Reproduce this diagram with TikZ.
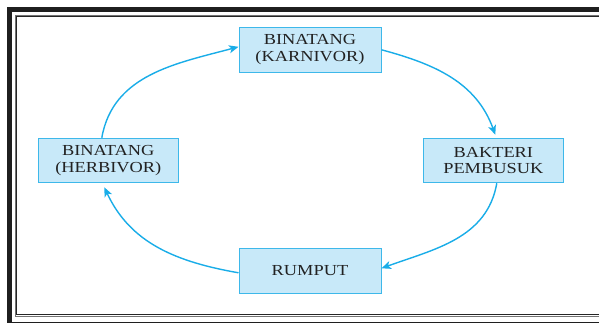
\documentclass[tikz,border=0pt]{standalone}
\usepackage{fontspec}
\setmainfont{Liberation Serif}[FakeStretch=1.2]
\usetikzlibrary{arrows.meta}
\definecolor{boxfill}{HTML}{C8E9F9}
\definecolor{boxline}{HTML}{3DB8EA}
\definecolor{arrowc}{HTML}{19ADE8}
\definecolor{txt}{HTML}{222222}
\begin{document}
\begin{tikzpicture}[x=1pt,y=1pt,
  box/.style={draw=boxline, fill=boxfill, line width=1pt, minimum width=142pt, minimum height=45pt,
    inner sep=0pt, align=center, text=txt, font=\fontsize{15.3}{16.7}\selectfont},
  sidebox/.style={box, minimum width=140pt, minimum height=44.5pt},
  flow/.style={draw=arrowc, line width=1.4pt, -{Stealth[length=9.5pt,width=8pt,inset=2.5pt]}},
  thickframe/.style={fill=black!88},
  frameouter/.style={draw=black!55, line width=0.9pt},
  frameinner/.style={draw=black!85, line width=0.9pt}]
\useasboundingbox (0,0) rectangle (599,-323);
\fill[white] (0,0) rectangle (599,-323);
% frame
\fill[thickframe] (7,-7) rectangle (12,-330);
\fill[thickframe] (7,-7) rectangle (610,-12);
\fill[thickframe] (7,-321.5) rectangle (610,-330);
\draw[frameouter] (15,-316.7) rectangle (620,-15);
\draw[frameinner] (16.8,-314.5) rectangle (618,-16.8);
% nodes
\node[box] (T) at (310,-49.8) {BINATANG\\(KARNIVOR)};
\node[sidebox] (L) at (108.3,-160.5) {BINATANG\\(HERBIVOR)};
\node[sidebox] (R) at (493.3,-160.5) {BAKTERI\\PEMBUSUK};
\node[box] (B) at (310,-270.8) {RUMPUT};
% arrows
\draw[flow] ([xshift=-6.5pt]L.north) to[out=80,in=195] ([yshift=3pt]T.west);
\draw[flow] (T.east) to[out=-15,in=110] ([xshift=2pt,yshift=3pt]R.north);
\draw[flow] ([xshift=3.5pt]R.south) to[out=-100,in=20] ([yshift=2.5pt]B.east);
\draw[flow] ([yshift=-2pt]B.west) to[out=170,in=-65] ([xshift=-4pt,yshift=-4pt]L.south);
\end{tikzpicture}
\end{document}
